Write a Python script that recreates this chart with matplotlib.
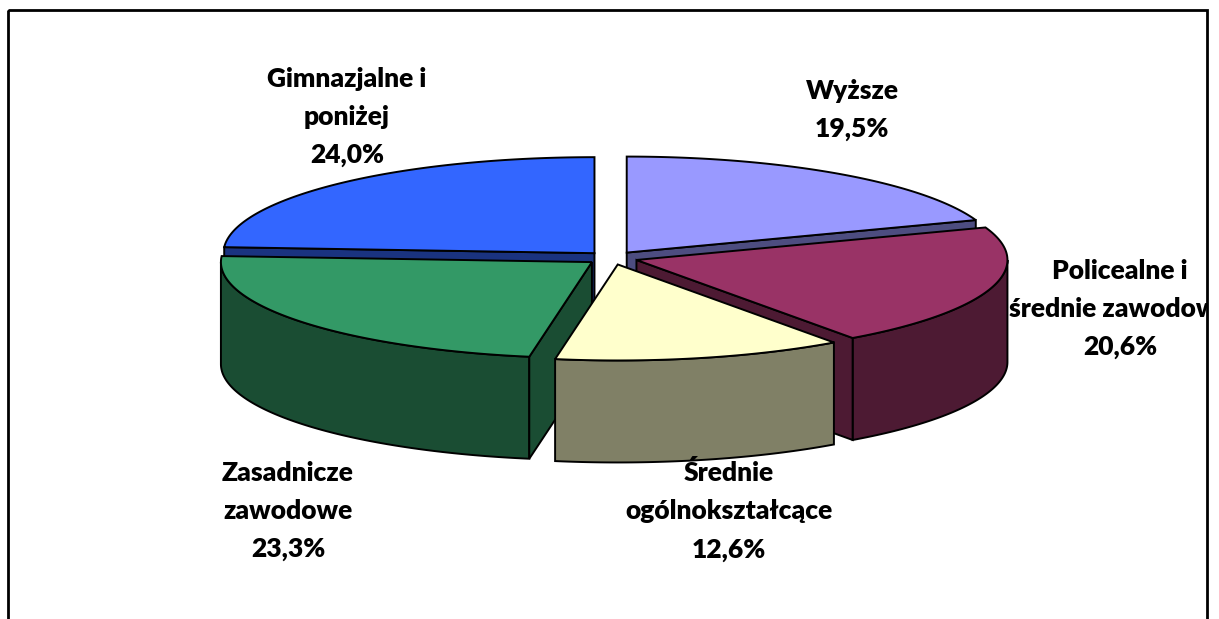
import numpy as np
import matplotlib.pyplot as plt
from matplotlib.patches import Polygon, Rectangle
from matplotlib.colors import to_rgb
from matplotlib.transforms import Bbox

# dane (udział w %), kolejność zgodnie z ruchem wskazówek zegara od godz. 12
kategorie = ["Wyższe", "Policealne i\nśrednie zawodowe", "Średnie\nogólnokształcące",
             "Zasadnicze\nzawodowe", "Gimnazjalne i\nponiżej"]
udzialy = [19.5, 20.6, 12.6, 23.3, 24.0]
kolory = ["#9999FF", "#993366", "#FFFFCC", "#339966", "#3366FF"]

# układ (piksele)
CX, CY = 612, 258      # środek elipsy
RX, RY = 371, 96       # półosie
H = 102                # grubość placka
WYSUN = 0.069          # odsunięcie wycinków
etykiety_xy = [(852, 110), (1120, 309), (729, 511), (288, 511), (347, 117)]

W, Hpx = 1219, 619
fig = plt.figure(figsize=(W / 100, Hpx / 100), dpi=100)
ax = fig.add_axes([0, 0, 1, 1])
ax.set_xlim(0, W)
ax.set_ylim(Hpx, 0)
ax.axis('off')


def punkt(phi, ox, oy, dz=0.0):
    r = np.radians(phi)
    return CX + ox + RX * np.sin(r), CY + oy - RY * np.cos(r) + dz


def luk(a, b, ox, oy, dz=0.0):
    t = np.linspace(a, b, 120)
    x, y = punkt(t, ox, oy, dz)
    return np.column_stack([x, y])


def ciemniej(c, f=0.5):
    return tuple(v * f for v in to_rgb(c))


lw = 1.4
suma = sum(udzialy)
granice = np.concatenate([[0], np.cumsum(udzialy)]) / suma * 360

wycinki = []
for i, v in enumerate(udzialy):
    a, b = granice[i], granice[i + 1]
    mid = np.radians((a + b) / 2)
    ox = WYSUN * RX * np.sin(mid)
    oy = -WYSUN * RY * np.cos(mid)
    wycinki.append((i, a, b, ox, oy, -np.cos(mid)))

# od tyłu do przodu
wycinki.sort(key=lambda w: w[5])

for i, a, b, ox, oy, _ in wycinki:
    gora = kolory[i]
    bok = ciemniej(gora)
    c0 = (CX + ox, CY + oy)
    # ściana zewnętrzna (widoczna część 90..270)
    lo, hi = max(a, 90), min(b, 270)
    if lo < hi:
        gorny = luk(lo, hi, ox, oy)
        dolny = luk(hi, lo, ox, oy, H)
        ax.add_patch(Polygon(np.vstack([gorny, dolny]), closed=True, facecolor=bok,
                             edgecolor='black', lw=lw, zorder=3))
    # ściany promieniowe
    for phi, widoczna in ((a, np.sin(np.radians(a)) < -1e-9), (b, np.sin(np.radians(b)) > 1e-9)):
        if widoczna:
            ex, ey = punkt(phi, ox, oy)
            pts = [c0, (ex, ey), (ex, ey + H), (c0[0], c0[1] + H)]
            ax.add_patch(Polygon(pts, closed=True, facecolor=bok,
                                 edgecolor='black', lw=lw, zorder=3))
    # wierzch
    pts = np.vstack([[c0], luk(a, b, ox, oy)])
    ax.add_patch(Polygon(pts, closed=True, facecolor=gora,
                         edgecolor='black', lw=lw, zorder=3))

# ramka (tekst poza ramką jest obcięty, jak w oryginale)
ax.add_patch(Rectangle((1207, 0), 20, Hpx, facecolor='white', edgecolor='none', zorder=6))
ramka = Rectangle((8, 10), 1199, 640, fill=False, edgecolor='black', lw=2.0, zorder=7)
ax.add_patch(ramka)
klip = Bbox([[8, 0], [1207, Hpx - 10]])  # piksele ekranu

for i, (x, y) in enumerate(etykiety_xy):
    tekst = f"{kategorie[i]}\n{udzialy[i]:.1f}%".replace('.', ',')
    # etykieta "Policealne..." chowa się za ścianą placka
    z = 2 if i == 1 else 4
    t = ax.text(x, y, tekst, ha='center', va='center', multialignment='center',
                fontsize=19, fontweight='heavy', family='Lato', linespacing=1.7,
                zorder=z)
    t.set_clip_on(True)
    t.set_clip_box(klip)

plt.savefig("out.png", dpi=100)
